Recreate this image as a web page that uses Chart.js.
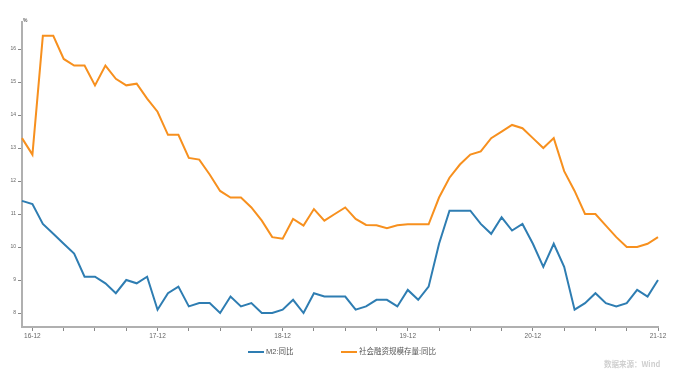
<!DOCTYPE html>
<html>
<head>
<meta charset="utf-8">
<script src="https://cdn.jsdelivr.net/npm/chart.js@4"></script>
<style>
  body { margin: 0; background: #fff; }
  #wrap { position: relative; width: 676px; height: 375px; }
  #unit { position: absolute; left: 23px; top: 17px; font: bold 5px "Liberation Sans", sans-serif; color: #666; }
  .leg { position: absolute; top: 345px; font: 7.5px "Liberation Sans", "Noto Sans CJK SC", sans-serif; color: #555; white-space: nowrap; }
  .leg i { display: inline-block; width: 16px; height: 2px; vertical-align: middle; margin-right: 2px; }
  #src { position: absolute; left: 604px; top: 358px; font: bold 7.5px "Noto Sans CJK SC", sans-serif; color: #cfcfcf; white-space: nowrap; }
</style>
</head>
<body>
<div id="wrap">
  <canvas id="chart"></canvas>
  <div id="unit">%</div>
  <div class="leg" style="left:248px"><i style="background:#2e7db2"></i>M2:同比</div>
  <div class="leg" style="left:341px"><i style="background:#f7901e"></i>社会融资规模存量:同比</div>
  <div id="src">数据来源：Wind</div>
</div>
<script>
// 月份 16-11 ~ 21-12
const months = [];
for (let y = 16; y <= 21; y++) {
    for (let m = 1; m <= 12; m++) {
        if (y === 16 && m < 11) continue;
        months.push(`${y}-${String(m).padStart(2, '0')}`);
    }
}

const m2 = [11.4, 11.3, 10.7, 10.4, 10.1, 9.8, 9.1, 9.1, 8.9, 8.6,
    9.0, 8.9, 9.1, 8.1, 8.6, 8.8, 8.2, 8.3, 8.3, 8.0,
    8.5, 8.2, 8.3, 8.0, 8.0, 8.1, 8.4, 8.0, 8.6, 8.5,
    8.5, 8.5, 8.1, 8.2, 8.4, 8.4, 8.2, 8.7, 8.4, 8.8,
    10.1, 11.1, 11.1, 11.1, 10.7, 10.4, 10.9, 10.5, 10.7, 10.1,
    9.4, 10.1, 9.4, 8.1, 8.3, 8.6, 8.3, 8.2, 8.3, 8.7,
    8.5, 9.0];

const socialFinancing = [13.3, 12.8, 16.4, 16.4, 15.7, 15.5, 15.5, 14.9, 15.5, 15.1,
    14.9, 14.95, 14.5, 14.1, 13.4, 13.4, 12.7, 12.65, 12.2, 11.7,
    11.5, 11.5, 11.2, 10.8, 10.3, 10.25, 10.85, 10.65, 11.15, 10.8,
    11.0, 11.2, 10.85, 10.67, 10.66, 10.57, 10.66, 10.69, 10.69, 10.69,
    11.5, 12.1, 12.5, 12.8, 12.9, 13.3, 13.5, 13.7, 13.6, 13.3,
    13.0, 13.3, 12.3, 11.7, 11.0, 11.0, 10.65, 10.3, 10.0, 10.0,
    10.1, 10.3];

const yTicks = [8, 9, 10, 11, 12, 13, 14, 15, 16];

const axisColor = '#b0b0b0';

new Chart(document.getElementById('chart'), {
    type: 'line',
    data: {
        labels: months,
        datasets: [
            { label: 'M2:同比', data: m2, borderColor: '#2e7db2', backgroundColor: '#2e7db2' },
            { label: '社会融资规模存量:同比', data: socialFinancing, borderColor: '#f7901e', backgroundColor: '#f7901e' }
        ]
    },
    options: {
        responsive: true,
        maintainAspectRatio: false,
        animation: false,
        layout: { padding: { top: 22, right: 18, left: 0, bottom: 0 } },
        elements: {
            line: { borderWidth: 2, tension: 0 },
            point: { radius: 0 }
        },
        plugins: {
            legend: { display: false },
            tooltip: { enabled: false }
        },
        scales: {
            x: {
                offset: false,
                border: { display: true, color: axisColor, width: 2 },
                grid: {
                    drawOnChartArea: false,
                    tickLength: 4,
                    color: ctx => ((ctx.index - 1) % 3 === 0 ? '#888' : 'rgba(0,0,0,0)')
                },
                ticks: {
                    autoSkip: false,
                    maxRotation: 0,
                    padding: 1,
                    color: '#666',
                    font: { family: 'Liberation Sans', size: 6.5 },
                    callback: (v, i) => (months[i].endsWith('-12') ? months[i] : '')
                },
                afterFit: s => { s.height = 48; }
            },
            y: {
                min: 7.576,
                max: 16.82,
                border: { display: true, color: axisColor, width: 2 },
                grid: { drawOnChartArea: false, tickLength: 4, color: '#888' },
                ticks: {
                    padding: 2,
                    color: '#666',
                    font: { family: 'Liberation Sans', size: 5 }
                },
                afterBuildTicks: s => { s.ticks = yTicks.map(v => ({ value: v })); },
                afterFit: s => { s.width = 22; }
            }
        }
    }
});
</script>
</body>
</html>
